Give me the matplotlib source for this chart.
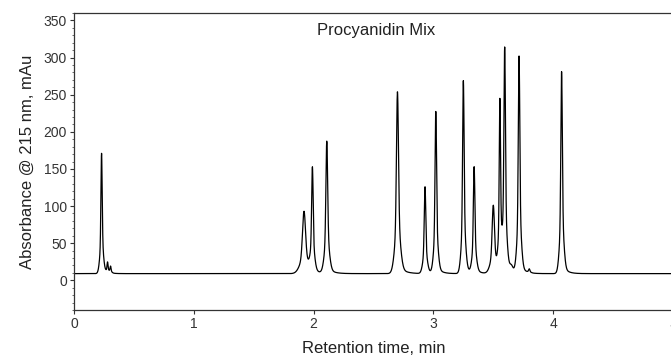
import numpy as np
import matplotlib
matplotlib.use("Agg")
import matplotlib.pyplot as plt
from matplotlib.ticker import MultipleLocator

plt.rcParams['font.family'] = ['Liberation Sans', 'DejaVu Sans']

# Peak table (retention time min, height mAU, width sigma min)
peak_times   = [0.23, 0.28, 0.305, 1.92, 1.99, 2.11, 2.70, 2.93, 3.02, 3.25, 3.34, 3.50, 3.555, 3.595, 3.65, 3.715, 3.80, 4.07]
peak_heights = [162, 14, 9, 84, 140, 178, 245, 117, 218, 260, 143, 92, 228, 300, 8, 292, 5, 272]
peak_sigmas  = [0.005, 0.004, 0.004, 0.012, 0.006, 0.007, 0.008, 0.006, 0.006, 0.006, 0.006, 0.009, 0.005, 0.006, 0.012, 0.006, 0.005, 0.006]
baseline_level = 9.0

fig = plt.figure(figsize=(6.71, 3.58), dpi=100)
ax = fig.add_axes([74/671, 48/358, 599/671, 297/358])

t = np.linspace(0, 5, 8000)
y = np.full_like(t, baseline_level)
for t0, h, s in zip(peak_times, peak_heights, peak_sigmas):
    narrow = np.exp(-0.5 * ((t - t0) / s) ** 2)
    broad = np.exp(-0.5 * ((t - t0) / (2.8 * s)) ** 2)
    tail = np.where(t > t0, np.exp(-(t - t0) / (6 * s)), 0) * (1 - narrow)
    y += h * (0.75 * narrow + 0.25 * broad) + 0.05 * h * tail

ax.plot(t, y, color='black', lw=0.9)

ax.set_xlim(0, 5)
ax.set_ylim(-40, 360)
ax.xaxis.set_major_locator(MultipleLocator(1))
ax.set_yticks([0, 50, 100, 150, 200, 250, 300, 350])
ax.yaxis.set_minor_locator(MultipleLocator(10))
ax.tick_params(axis='both', which='major', direction='out', length=3, width=0.8,
               labelsize=10, colors='#333333', pad=2)
ax.tick_params(axis='y', which='minor', direction='out', length=1.5, width=0.6, colors='#555555')
for sp in ax.spines.values():
    sp.set_color('#333333')
    sp.set_linewidth(0.9)

ax.set_xlabel('Retention time, min', fontsize=12, color='#222222', labelpad=7)
ax.set_ylabel('Absorbance @ 215 nm, mAu', fontsize=12, color='#222222', labelpad=6)
ax.text(0.505, 0.965, 'Procyanidin Mix', transform=ax.transAxes, ha='center', va='top',
        fontsize=12, color='#222222')

fig.savefig('out.png', dpi=100)
